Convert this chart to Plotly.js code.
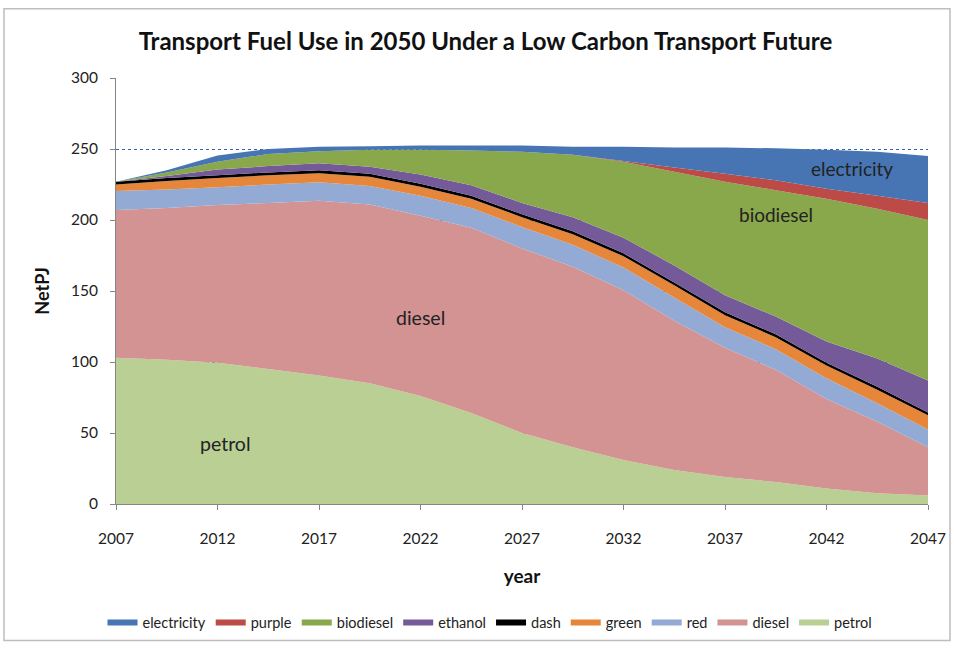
<!DOCTYPE html>
<html>
<head>
<meta charset="utf-8">
<script src="https://cdn.plot.ly/plotly-3.0.1.min.js"></script>
<style>
  html, body { margin: 0; padding: 0; background: #ffffff; }
  #chart { width: 954px; height: 651px; }
</style>
</head>
<body>
<div id="chart"></div>
<script>
// Categories (equally spaced, as in a category axis)
const years = ['2007','2010','2012','2015','2017','2020','2022','2025','2027','2030','2032','2035','2037','2040','2042','2045','2047'];
const tickYears = ['2007','2012','2017','2022','2027','2032','2037','2042','2047'];

// Series values (NetPJ), bottom to top of the stack
const petrol      = [103, 101.5, 99.5, 95, 90.5, 85, 76, 64, 50, 40, 31, 24, 19, 15.5, 11, 7.5, 6];
const diesel      = [104, 107, 111, 117, 123, 126, 127, 130.5, 130, 127, 119.5, 105, 91, 79, 63, 50.5, 34];
const red         = [13.5, 13, 12.5, 13, 13, 13, 14, 14, 15, 15.5, 16, 16.5, 14.5, 14.5, 14.5, 13, 12.5];
const green       = [4.5, 6, 6.5, 6.5, 6.5, 6.5, 6.5, 6.5, 7, 7.5, 8, 8.5, 8.5, 8.5, 9, 9.5, 10];
const dash        = [2, 2, 2, 2, 2, 2, 2, 2, 2, 2, 2, 2, 2, 2, 2, 2, 2];
const ethanol     = [0, 1.5, 4, 4.5, 5, 5, 6.5, 7.5, 8, 10, 11, 12, 12, 12.5, 15, 20, 22.5];
const biodiesel   = [0, 2.5, 5.5, 8.5, 8.5, 12, 17.5, 24.5, 36, 44, 53.5, 66, 80, 89, 100.5, 105.5, 113];
const purple      = [0, 0, 0, 0, 0, 0, 0, 0, 0, 0, 0.5, 3, 5.5, 7, 7, 9, 12];
const electricity = [0, 1.5, 4.5, 3.5, 3, 2.5, 3, 3.5, 4.5, 5.5, 10, 14, 18.5, 22.5, 27.5, 31, 33];

const series = [
  {name: 'petrol',      y: petrol,      color: '#B9CF94'},
  {name: 'diesel',      y: diesel,      color: '#D39393'},
  {name: 'red',         y: red,         color: '#93AAD5'},
  {name: 'green',       y: green,       color: '#E5863A'},
  {name: 'dash',        y: dash,        color: '#000000'},
  {name: 'ethanol',     y: ethanol,     color: '#755A99'},
  {name: 'biodiesel',   y: biodiesel,   color: '#89A74B'},
  {name: 'purple',      y: purple,      color: '#BC4A47'},
  {name: 'electricity', y: electricity, color: '#4775B3'}
];

const traces = series.map(s => ({
  type: 'scatter',
  mode: 'none',
  x: years,
  y: s.y,
  name: s.name,
  stackgroup: 'one',
  fillcolor: s.color,
  line: {width: 0},
  hoverinfo: 'skip'
}));

const FONT = 'Lato, "Open Sans", "DejaVu Sans", sans-serif';

const layout = {
  width: 954,
  height: 651,
  margin: {l: 116, r: 26, t: 78, b: 142},
  paper_bgcolor: '#ffffff',
  plot_bgcolor: '#ffffff',
  font: {family: FONT, size: 15, color: '#222222'},
  showlegend: true,
  title: {
    text: '<b>Transport Fuel Use in 2050 Under a Low Carbon Transport Future</b>',
    font: {family: FONT, size: 24, color: '#111111'},
    xref: 'paper', x: 0.455, xanchor: 'center',
    yref: 'container', y: 1 - 42/651, yanchor: 'middle'
  },
  xaxis: {
    type: 'category',
    range: [0, 16],
    tickmode: 'array',
    tickvals: tickYears,
    ticktext: tickYears,
    ticks: 'outside',
    ticklen: 5,
    tickcolor: '#868686',
    ticklabelstandoff: 15,
    showline: true,
    linecolor: '#868686',
    linewidth: 1,
    showgrid: false,
    zeroline: false,
    tickfont: {family: FONT, size: 15.5, color: '#222222'},
    title: {text: '<b>year</b>', font: {family: FONT, size: 19, color: '#111111'}, standoff: 24}
  },
  yaxis: {
    range: [0, 300],
    dtick: 50,
    ticks: 'outside',
    ticklen: 5,
    tickcolor: '#868686',
    ticklabelstandoff: 9,
    showline: true,
    linecolor: '#868686',
    linewidth: 1,
    showgrid: true,
    gridcolor: '#2F64B0',
    gridwidth: 1,
    griddash: 'dot',
    zeroline: false,
    tickfont: {family: FONT, size: 15.5, color: '#222222'},
    title: {text: '<b>NetPJ</b>', font: {family: FONT, size: 18, color: '#111111'}, standoff: 16}
  },
  legend: {
    orientation: 'h',
    traceorder: 'reversed',
    x: (490 - 116) / 812, xanchor: 'center',
    y: (509 - 629) / 431, yanchor: 'middle',
    font: {family: FONT, size: 14.5, color: '#222222'},
    itemwidth: 30,
    bgcolor: 'rgba(0,0,0,0)'
  },
  annotations: [
    {x: 14.5, y: 236.5, xref: 'x', yref: 'y', text: 'electricity', showarrow: false, font: {family: FONT, size: 19, color: '#222222'}},
    {x: 13.0, y: 204, xref: 'x', yref: 'y', text: 'biodiesel', showarrow: false, font: {family: FONT, size: 19, color: '#222222'}},
    {x: 6.0, y: 131.5, xref: 'x', yref: 'y', text: 'diesel', showarrow: false, font: {family: FONT, size: 19.5, color: '#222222'}},
    {x: 2.15, y: 42.5, xref: 'x', yref: 'y', text: 'petrol', showarrow: false, font: {family: FONT, size: 19.5, color: '#222222'}}
  ],
  shapes: [
    {type: 'rect', xref: 'paper', yref: 'paper',
     x0: (4 - 116) / 812, x1: (950 - 116) / 812,
     y0: (509 - 647) / 431, y1: (509 - 8) / 431,
     line: {color: '#BDBDBD', width: 1.5}, fillcolor: 'rgba(0,0,0,0)', layer: 'below'}
  ]
};

Plotly.newPlot('chart', traces, layout, {displayModeBar: false, staticPlot: true});
</script>
</body>
</html>
